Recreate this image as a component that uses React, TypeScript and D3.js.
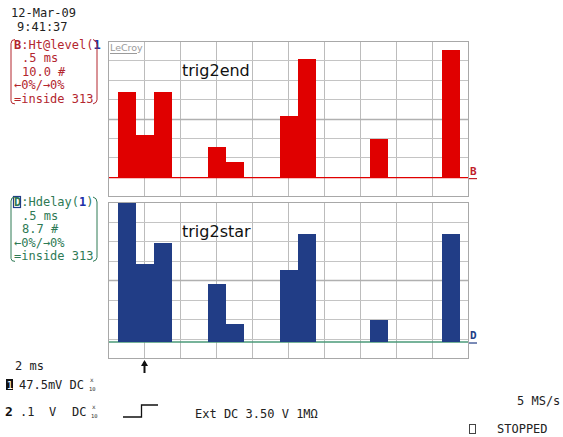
import * as React from "react";
import * as d3 from "d3";

// histogram counts, one per 1 ms bin (19 bins)
const trig2end = [44, 22, 44, 0, 0, 16, 8, 0, 0, 32, 61, 0, 0, 0, 20, 0, 0, 0, 66];
const trig2star = [62, 35, 44, 0, 0, 26, 8, 0, 0, 32, 48, 0, 0, 0, 10, 0, 0, 0, 48];

const redLabel = [".5 ms", "10.0 #", "\u21900%/\u21920%", "=inside 313"];
const blueLabel = [".5 ms", "8.7 #", "\u21900%/\u21920%", "=inside 313"];

const xTicks = [0, 2, 4, 6, 8, 10, 12, 14, 16, 18, 20];
const binOffset = 0.54; // ms, first bin start

const mono = "'DejaVu Sans Mono', monospace";

export default function App() {
  const ref = React.useRef<SVGSVGElement>(null);

  React.useEffect(() => {
    const svg = d3.select(ref.current);
    svg.selectAll("*").remove();

    const x = d3.scaleLinear().domain([0, 20]).range([108, 468]);

    const panels = [
      {name: "trig2end", data: trig2end, top: 41, bottom: 196, perDiv: 10, base: 0.95,
        fill: "#e00000", baseColor: "#e00000", marker: "B", markerColor: "#c0202a"},
      {name: "trig2star", data: trig2star, top: 202, bottom: 358, perDiv: 8.7, base: 0.82,
        fill: "#213d86", baseColor: "#4a9a78", marker: "D", markerColor: "#213d86"},
    ];

    panels.forEach(p => {
      const g = svg.append("g");
      const div = d3.scaleLinear().domain([0, 8]).range([p.bottom, p.top]);
      const y = d3.scaleLinear()
        .domain([-p.base * p.perDiv, (8 - p.base) * p.perDiv])
        .range([p.bottom, p.top]);

      g.append("rect")
        .attr("x", x(0)).attr("y", p.top)
        .attr("width", x(20) - x(0)).attr("height", p.bottom - p.top)
        .attr("fill", "#fff");

      // grid
      g.selectAll(".vgrid").data(xTicks).enter().append("line")
        .attr("x1", d => Math.round(x(d)) + 0.5).attr("x2", d => Math.round(x(d)) + 0.5)
        .attr("y1", p.top).attr("y2", p.bottom)
        .attr("stroke", "#bcbcbc");
      g.selectAll(".hgrid").data(d3.range(9)).enter().append("line")
        .attr("x1", x(0)).attr("x2", x(20))
        .attr("y1", d => Math.round(div(d)) + 0.5).attr("y2", d => Math.round(div(d)) + 0.5)
        .attr("stroke", d => d === 4 ? "#b0b0b0" : "#c4c4c4")
        .attr("stroke-width", d => d === 4 ? 1.5 : 1);
      g.append("rect")
        .attr("x", Math.round(x(0)) + 0.5).attr("y", p.top + 0.5)
        .attr("width", x(20) - x(0)).attr("height", p.bottom - p.top)
        .attr("fill", "none").attr("stroke", "#a8a8a8");

      // baseline trace
      g.append("line")
        .attr("x1", x(0) + 1).attr("x2", x(20))
        .attr("y1", y(0)).attr("y2", y(0))
        .attr("stroke", p.baseColor).attr("stroke-width", 1.3);

      // bars
      g.selectAll(".bar").data(p.data).enter().append("rect")
        .attr("x", (d, i) => x(binOffset + i))
        .attr("width", x(1) - x(0))
        .attr("y", d => y(d))
        .attr("height", d => y(0) - y(d))
        .attr("fill", p.fill)
        .attr("shape-rendering", "crispEdges");

      g.append("text")
        .attr("x", 182).attr("y", p.top + 34.5)
        .attr("font-family", "'DejaVu Sans', sans-serif")
        .attr("font-size", 16)
        .attr("fill", "#111")
        .text(p.name);

      // channel marker on the right
      g.append("text")
        .attr("x", 470).attr("y", y(0) - 3)
        .attr("font-family", mono).attr("font-size", 11).attr("font-weight", "bold")
        .attr("fill", p.markerColor)
        .text(p.marker);
      g.append("line")
        .attr("x1", 469).attr("x2", 477).attr("y1", y(0) + 1).attr("y2", y(0) + 1)
        .attr("stroke", p.markerColor).attr("stroke-width", 1.2);
    });

    // LeCroy logo
    svg.append("text")
      .attr("x", 110).attr("y", 51)
      .attr("font-family", "'DejaVu Sans', sans-serif").attr("font-size", 9.5)
      .attr("fill", "#9a9a9a").text("LeCroy");
    svg.append("line")
      .attr("x1", 110).attr("x2", 137).attr("y1", 53.5).attr("y2", 53.5)
      .attr("stroke", "#9a9a9a");

    const txt = (xx: number, yy: number, s: string, color = "#222", size = 12) =>
      svg.append("text").attr("x", xx).attr("y", yy)
        .attr("font-family", mono).attr("font-size", size)
        .attr("fill", color).text(s);

    // top-left date
    txt(11, 17, "12-Mar-09");
    txt(17, 31, "9:41:37");

    // measurement label blocks
    const labelBlock = (top: number, color: string, head: string, lines: string[], boxed: boolean) => {
      const lineH = 13.6;
      const t = svg.append("text").attr("x", 14).attr("y", top)
        .attr("font-family", mono).attr("font-size", 12).attr("fill", color);
      t.append("tspan").attr("font-weight", "bold").text(head[0]);
      t.append("tspan").text(head.slice(1));
      t.append("tspan").attr("fill", "#1b2fa8").attr("font-weight", "bold").text("1");
      if (boxed) t.append("tspan").text(")");
      if (boxed) {
        svg.append("rect").attr("x", 13.5).attr("y", top - 9.5).attr("width", 7).attr("height", 11)
          .attr("fill", "none").attr("stroke", "#213d86").attr("stroke-width", 1.2);
      }
      lines.forEach((s, i) => {
        svg.append("text").attr("x", i >= 2 ? 14 : 22)
          .attr("y", top + lineH * (i + 1))
          .attr("font-family", mono).attr("font-size", 12).attr("fill", color)
          .text(s);
      });
      const bottom = top + lineH * 4;
      svg.append("path")
        .attr("d", `M15,${top - 9} Q11,${top - 9} 11,${top - 5} L11,${bottom - 2} Q11,${bottom + 1} 15,${bottom + 1}`)
        .attr("fill", "none").attr("stroke", color).attr("stroke-width", 1);
      svg.append("path")
        .attr("d", `M93,${top - 9} Q97,${top - 8} 97,${top - 4} L97,${bottom - 3} Q97,${bottom} 93,${bottom + 1}`)
        .attr("fill", "none").attr("stroke", color).attr("stroke-width", 1);
    };
    labelBlock(48.5, "#b3262e", "B:Ht@level(", redLabel, false);
    labelBlock(206, "#2e7a55", "D:Hdelay(", blueLabel, true);

    // trigger arrow
    svg.append("line").attr("x1", x(2) + 0.5).attr("x2", x(2) + 0.5)
      .attr("y1", 362).attr("y2", 373).attr("stroke", "#111").attr("stroke-width", 2);
    svg.append("path")
      .attr("d", `M${x(2) - 3},${366} L${x(2) + 0.5},${360} L${x(2) + 4},${366} Z`)
      .attr("fill", "#111");

    // bottom status
    txt(15, 370, "2 ms");
    svg.append("rect").attr("x", 6).attr("y", 379).attr("width", 7).attr("height", 11).attr("fill", "#111");
    txt(6.5, 389, "1", "#fff", 11);
    txt(19, 389, "47.5mV DC");
    txt(90, 382, "x", "#333", 6);
    txt(89, 391, "10", "#333", 5.5);

    svg.append("text").attr("x", 5).attr("y", 416)
      .attr("font-family", mono).attr("font-size", 13).attr("font-weight", "bold")
      .attr("fill", "#111").text("2");
    txt(20, 416, ".1");
    txt(49, 416, "V");
    txt(72, 416, "DC");
    txt(92, 409, "x", "#333", 6);
    txt(91, 418, "10", "#333", 5.5);

    svg.append("path")
      .attr("d", "M123,417 L141.5,417 L141.5,405 L158,405")
      .attr("fill", "none").attr("stroke", "#111").attr("stroke-width", 1.3);
    txt(195, 418, "Ext DC 3.50 V 1M\u03a9");
    txt(517, 405, "5 MS/s");
    svg.append("rect").attr("x", 469.5).attr("y", 424.5).attr("width", 6).attr("height", 9)
      .attr("fill", "none").attr("stroke", "#444");
    txt(497, 433, "STOPPED");
  }, []);

  return <svg ref={ref} width={563} height={437}
    style={{position: "absolute", left: 0, top: 0, background: "#fff"}}/>;
}
